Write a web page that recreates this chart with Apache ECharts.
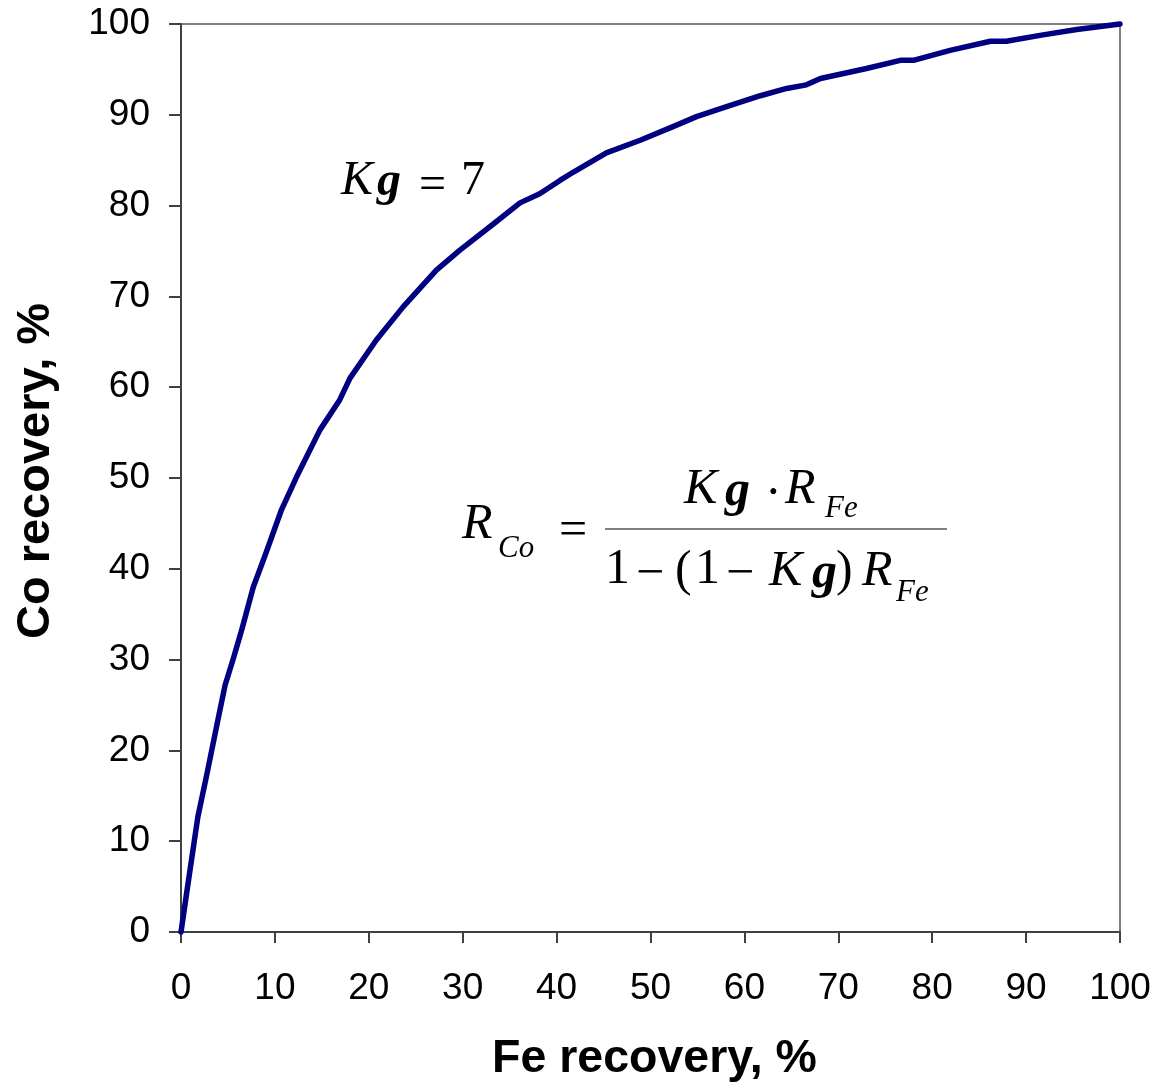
<!DOCTYPE html>
<html>
<head>
<meta charset="utf-8">
<script src="https://cdn.jsdelivr.net/npm/echarts@6/dist/echarts.min.js"></script>
<style>
html,body{margin:0;padding:0;background:#fff;}
#chart{width:1158px;height:1085px;}
</style>
</head>
<body>
<div id="chart"></div>
<script>
// Fe recovery, % (x) and Co recovery, % (y)
const feRecovery = [0, 0.8, 1.8, 2.7, 4.0, 4.7, 5.6, 6.5, 7.7, 9.0, 10.7, 12.3, 14.8, 16.9, 18.0, 20.8, 23.7, 27.2, 29.7, 33.3, 36.1, 38.2, 40.4, 41.8, 45.3, 48.9, 52.4, 54.9, 58.1, 61.7, 64.5, 66.6, 68.1, 73.0, 76.6, 78.0, 81.9, 86.2, 87.9, 91.8, 95.4, 100];
const coRecovery = [0, 5.7, 12.7, 17.1, 23.7, 27.2, 30.2, 33.4, 38.0, 41.6, 46.5, 50.1, 55.3, 58.6, 61.0, 65.2, 68.9, 72.9, 75.1, 78.0, 80.3, 81.3, 82.8, 83.7, 85.8, 87.2, 88.7, 89.8, 90.9, 92.1, 92.9, 93.3, 94.0, 95.1, 96.0, 96.0, 97.1, 98.1, 98.1, 98.8, 99.4, 100];
const xTicks = {min: 0, max: 100, interval: 10};
const yTicks = {min: 0, max: 100, interval: 10};
const xTitle = 'Fe recovery, %';
const yTitle = 'Co recovery, %';

const points = feRecovery.map((x, i) => [x, coRecovery[i]]);

const SERIF = '"Liberation Serif", "Times New Roman", serif';
function gt(txt, x, cy, size, opts) {
  opts = opts || {};
  return {
    type: 'text', x: x, y: cy, silent: true,
    style: {
      text: txt, fontFamily: SERIF, fontSize: size,
      fontStyle: opts.style || 'normal',
      fontWeight: opts.weight || 'normal',
      fill: '#000', verticalAlign: 'middle', align: 'left'
    }
  };
}

const K7 = 48, M = 50, S = 31;
const annotations = [
  // Kg = 7
  gt('K', 341, 181, K7, {style: 'italic'}),
  gt('g', 377, 183, K7, {style: 'italic', weight: 'bold'}),
  gt('=', 419, 186, K7),
  gt('7', 461, 181, K7),
  // R_Co =
  gt('R', 462, 525, M, {style: 'italic'}),
  gt('Co', 498, 549, S, {style: 'italic'}),
  gt('=', 559, 532, M),
  // numerator
  gt('K', 684, 490, M, {style: 'italic'}),
  gt('g', 725, 492, M, {style: 'italic', weight: 'bold'}),
  gt('\u00b7', 765, 495, M),
  gt('R', 785, 490, M, {style: 'italic'}),
  gt('Fe', 825, 509, S, {style: 'italic'}),
  // denominator
  gt('1', 605, 570, M),
  gt('\u2212', 636, 575, M),
  gt('(', 675, 572, M),
  gt('1', 695, 570, M),
  gt('\u2212', 726, 575, M),
  gt('K', 769, 572, M, {style: 'italic'}),
  gt('g', 812, 574, M, {style: 'italic', weight: 'bold'}),
  gt(')', 836, 572, M),
  gt('R', 862, 572, M, {style: 'italic'}),
  gt('Fe', 896, 593, S, {style: 'italic'}),
  // fraction bar
  {type: 'line', silent: true, shape: {x1: 605, y1: 529, x2: 947, y2: 529},
   style: {stroke: '#808080', lineWidth: 2}}
];

const chart = echarts.init(document.getElementById('chart'), null, {renderer: 'canvas'});
const SANS = '"Liberation Sans", Arial, sans-serif';
const axisFont = {fontFamily: SANS, fontSize: 37, color: '#000'};
chart.setOption({
  animation: false,
  backgroundColor: '#fff',
  grid: {
    left: 181, right: 38, top: 24, bottom: 153,
    show: true, borderColor: '#808080', borderWidth: 2,
    containLabel: false, outerBoundsMode: 'none'
  },
  xAxis: {
    type: 'value', min: xTicks.min, max: xTicks.max, interval: xTicks.interval,
    name: xTitle, nameLocation: 'middle', nameGap: 104,
    nameTextStyle: {fontFamily: SANS, fontSize: 46.5, fontWeight: 'bold', color: '#000', padding: [0, 0, 0, 8]},
    axisLine: {show: true, onZero: false, lineStyle: {color: '#404040', width: 2}},
    axisTick: {show: true, inside: false, length: 11, lineStyle: {color: '#404040', width: 2}},
    axisLabel: Object.assign({margin: 38}, axisFont),
    splitLine: {show: false}
  },
  yAxis: {
    type: 'value', min: yTicks.min, max: yTicks.max, interval: yTicks.interval,
    name: yTitle, nameLocation: 'middle', nameGap: 121, nameRotate: 90,
    nameTextStyle: {fontFamily: SANS, fontSize: 47, fontWeight: 'bold', color: '#000', padding: [0, 0, 0, 14]},
    axisLine: {show: true, onZero: false, lineStyle: {color: '#404040', width: 2}},
    axisTick: {show: true, inside: false, length: 12, lineStyle: {color: '#404040', width: 2}},
    axisLabel: Object.assign({margin: 31}, axisFont),
    splitLine: {show: false}
  },
  series: [{
    type: 'line', data: points, showSymbol: false, symbol: 'none',
    smooth: false, clip: false,
    lineStyle: {color: '#000080', width: 5.5, join: 'round', cap: 'round'}
  }],
  graphic: annotations
});
</script>
</body>
</html>
